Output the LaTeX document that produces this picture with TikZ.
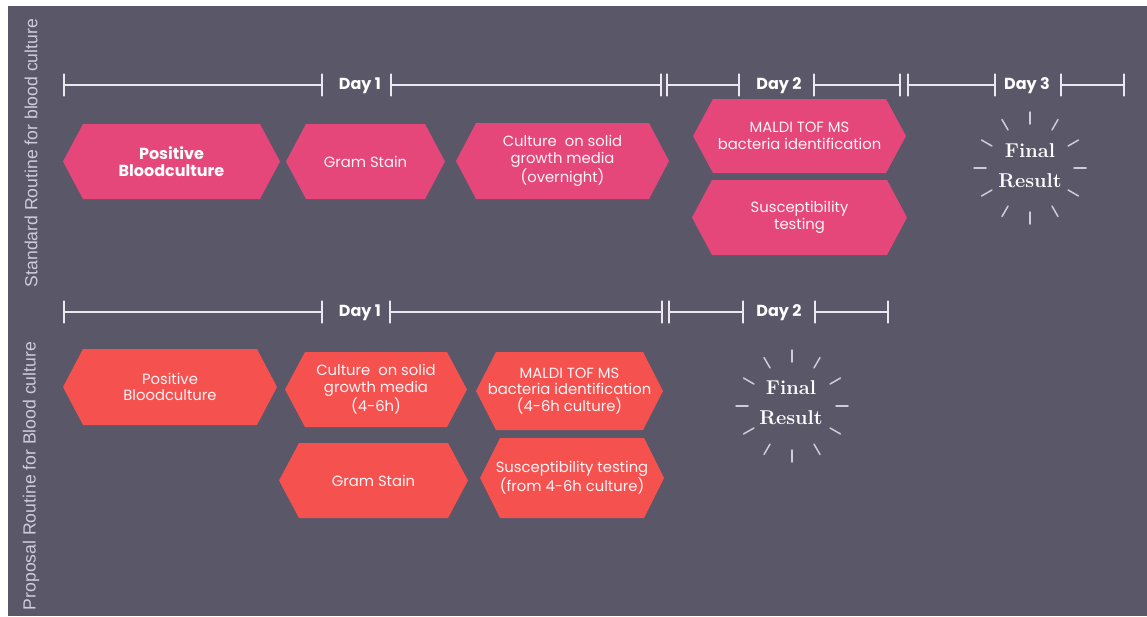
\documentclass[tikz,border=0pt]{standalone}
\usepackage{fontspec}
\newfontfamily\pop{Poppins}
\newfontfamily\lib{Liberation Sans}
\definecolor{bgc}{HTML}{5A5769}
\definecolor{pinkc}{HTML}{E6477B}
\definecolor{coralc}{HTML}{F5524F}
\definecolor{linec}{HTML}{ECE8F2}
\definecolor{sidec}{HTML}{CFCCD8}
\tikzset{
  tl/.style={draw=linec, line width=2.6pt},
  tk/.style={draw=linec, line width=2.6pt, line cap=round},
  daylbl/.style={text=white, font=\pop\bfseries\fontsize{16}{18}\selectfont, inner sep=0pt},
  hextext/.style={text=white!94!pinkc, align=center, font=\pop\fontsize{14.8}{16.8}\selectfont, inner sep=0pt},
  hexbold/.style={text=white, align=center, font=\pop\bfseries\fontsize{16}{17.5}\selectfont, inner sep=0pt},
  sidelbl/.style={text=sidec, rotate=90, font=\lib\fontsize{17.6}{19}\selectfont, inner sep=0pt},
  finallbl/.style={text=white, align=center, font=\rmfamily\bfseries\fontsize{20}{30}\selectfont, inner sep=0pt},
  ray/.style={draw=linec!80!bgc, line width=1.5pt, line cap=round}
}
\newcommand\hexa[8]{% name, xl, xr, yt, yb, color, textstyle, text
  \fill[#6] (#2,{(#4+#5)/2}) -- (#2+20,#4) -- (#3-20,#4) -- (#3,{(#4+#5)/2}) -- (#3-20,#5) -- (#2+20,#5) -- cycle;
  \node[#7] (#1) at ({(#2+#3)/2},{(#4+#5)/2}) {#8};}
\newcommand\tbar[3]{% xl, xr, y
  \draw[tl] (#1,#3) -- (#2,#3);
  \draw[tk] (#1,#3-10.5) -- (#1,#3+10.5);
  \draw[tk] (#2,#3-10.5) -- (#2,#3+10.5);}
\newcommand\burst[1]{%
  \foreach \a in {0,30,...,330} \draw[ray] ([shift={(\a:44pt)}]#1) -- ([shift={(\a:56pt)}]#1);}
\begin{document}
\begin{tikzpicture}[x=1pt,y=-1pt]
\useasboundingbox (0,0) rectangle (1147,616);
\fill[white] (0,0) rectangle (1147,616);
\fill[bgc] (8,6) rectangle (1147,616);
% side labels
\node[sidelbl] (sideA) at (31,153) {Standard Routine for blood culture};
\node[sidelbl] (sideB) at (31,476) {Proposal Routine for Blood culture};
% top timeline
\tbar{64}{322}{85}
\node[daylbl] (d1a) at (360,86) {Day 1};
\tbar{391}{661}{85}
\tbar{667}{739}{85}
\node[daylbl] (d2a) at (779,86) {Day 2};
\tbar{814}{900}{85}
\tbar{908}{995}{85}
\node[daylbl] (d3a) at (1027,86) {Day 3};
\tbar{1061}{1124}{85}
% bottom timeline
\tbar{64}{322}{312}
\node[daylbl] (d1b) at (360,313) {Day 1};
\tbar{390}{662}{312}
\tbar{669}{743}{312}
\node[daylbl] (d2b) at (779,313) {Day 2};
\tbar{815}{888}{312}
% top hexagons
\hexa{a1}{63}{280}{124}{199}{pinkc}{hexbold}{Positive\\Bloodculture}
\hexa{a2}{286}{445}{124}{199}{pinkc}{hextext}{Gram Stain}
\hexa{a3}{456}{669}{123}{199}{pinkc}{hextext}{Culture\ \ on solid\\growth media\\(overnight)}
\hexa{a4}{693}{906}{99}{173}{pinkc}{hextext}{MALDI TOF MS\\bacteria identification}
\hexa{a5}{692}{907}{180}{255}{pinkc}{hextext}{Susceptibility\\testing}
% bottom hexagons
\hexa{b1}{63}{277}{349}{425}{coralc}{hextext}{Positive\\Bloodculture}
\hexa{b2}{285}{467}{352}{427}{coralc}{hextext}{Culture\ \ on solid\\growth media\\(4-6h)}
\hexa{b3}{476}{663}{352}{430}{coralc}{hextext}{MALDI TOF MS\\bacteria identification\\(4-6h culture)}
\hexa{b4}{279}{468}{443}{518}{coralc}{hextext}{Gram Stain}
\hexa{b5}{480}{664}{438}{518}{coralc}{hextext}{Susceptibility testing\\(from 4-6h culture)}
% final results
\node[finallbl] (fa) at (1030,166) {Final\\Result};
\coordinate (ca) at (1030,168);
\burst{ca}
\node[finallbl] (fb) at (791,403) {Final\\Result};
\coordinate (cb) at (792,406);
\burst{cb}
\end{tikzpicture}
\end{document}
